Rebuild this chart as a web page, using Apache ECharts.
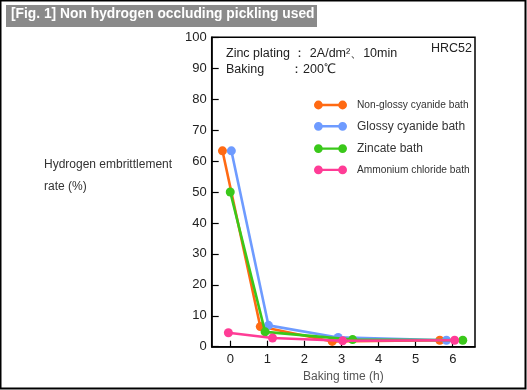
<!DOCTYPE html>
<html><head><meta charset="utf-8">
<script src="https://cdn.jsdelivr.net/npm/echarts@6/dist/echarts.min.js"></script>
<style>html,body{margin:0;padding:0;background:#fff}#c{width:527px;height:390px}</style>
</head><body><div id="c"></div>
<script>
const seriesNames = ['Non-glossy cyanide bath','Glossy cyanide bath','Zincate bath','Ammonium chloride bath'];
const xNonGlossy = [-0.21, 0.81, 2.75, 5.65];
const yNonGlossy = [63.3, 6.5, 1.7, 2.1];
const xGlossy = [0.03, 1.03, 2.91, 5.83];
const yGlossy = [63.3, 6.9, 3.0, 2.1];
const xZincate = [0.0, 0.94, 3.3, 6.27];
const yZincate = [50.0, 4.8, 2.3, 2.1];
const xAmmonium = [-0.05, 1.14, 3.03, 6.05];
const yAmmonium = [4.5, 2.8, 1.9, 2.1];
const xTicks = [0,1,2,3,4,5,6];
const colors = ['#ff6a13','#6e9bff','#3ac81a','#ff3c96'];

const xs = [xNonGlossy, xGlossy, xZincate, xAmmonium];
const ys = [yNonGlossy, yGlossy, yZincate, yAmmonium];
const font = 'Liberation Sans, Arial, Helvetica, sans-serif';
const icon = 'path://M4,0A4,4 0 1 1 3.99,0ZM26,0A4,4 0 1 1 25.99,0ZM4,2.9L26,2.9L26,5.1L4,5.1Z';

const chart = echarts.init(document.getElementById('c'), null, {renderer:'canvas'});
chart.setOption({
  animation:false,
  backgroundColor:'#fff',
  grid:{left:211.7, right:52, top:37.3, bottom:43.3, show:true, borderColor:'#000', borderWidth:1.5, backgroundColor:'transparent'},
  xAxis:{type:'value', min:-0.5, max:6.6,
    axisLine:{show:true, onZero:false, lineStyle:{color:'#000', width:1.5}},
    axisTick:{show:true, inside:true, length:6, customValues:xTicks, lineStyle:{color:'#000', width:1.2}},
    axisLabel:{customValues:xTicks, margin:6, fontSize:13, color:'#222', fontFamily:font},
    splitLine:{show:false},
    name:'Baking time (h)', nameLocation:'middle', nameGap:22,
    nameTextStyle:{fontSize:12, color:'#555', fontFamily:font}},
  yAxis:{type:'value', min:0, max:100, interval:10,
    axisLine:{show:true, onZero:false, lineStyle:{color:'#000', width:1.5}},
    axisTick:{show:true, inside:true, length:7, lineStyle:{color:'#000', width:1.2}},
    axisLabel:{margin:5, fontSize:13, color:'#222', fontFamily:font},
    splitLine:{show:false}},
  legend:{show:true, orient:'vertical', left:309, top:95, itemWidth:33, itemHeight:9, itemGap:10.3,
    icon:icon,
    data:seriesNames.map((n,i)=>({name:n, itemStyle:{color:colors[i]}})),
    formatter:function(n){ return (n===seriesNames[0]||n===seriesNames[3]) ? '{n|'+n+'}' : '{w|'+n+'}'; },
    textStyle:{padding:[0,0,0,5], rich:{
      n:{fontSize:10.2, fontFamily:font, color:'#333'},
      w:{fontSize:12, fontFamily:font, color:'#333'}}}},
  series: seriesNames.map((n,i)=>({
    name:n, type:'line', data: xs[i].map((x,j)=>[x, ys[i][j]]),
    symbol:'circle', symbolSize:9, showSymbol:true,
    lineStyle:{width:2.6, color:colors[i]}, itemStyle:{color:colors[i]}, z:2+i})),
  graphic:[
    {type:'rect', shape:{x:0.5,y:0.5,width:525,height:388}, style:{fill:'none', stroke:'#000', lineWidth:2}, silent:true},
    {type:'rect', shape:{x:6,y:5,width:311,height:22}, style:{fill:'#8a8a8a'}},
    {type:'text', left:11, top:7.5, style:{text:'[Fig. 1] Non hydrogen occluding pickling used', fill:'#fff', font:'bold 13.8px '+font}},
    {type:'text', left:44, top:154, style:{text:'Hydrogen embrittlement\nrate (%)', fill:'#333', font:'12px '+font, lineHeight:22}},
    {type:'text', left:226, top:47, style:{text:'Zinc plating ： 2A/dm²、10min', fill:'#222', font:'12.5px '+font}},
    {type:'text', left:226, top:63, style:{text:'Baking', fill:'#222', font:'12.5px '+font}},
    {type:'text', left:290, top:63, style:{text:'：200℃', fill:'#222', font:'12.5px '+font}},
    {type:'text', left:431, top:42, style:{text:'HRC52', fill:'#222', font:'12.5px '+font}}
  ]
});
</script></body></html>
